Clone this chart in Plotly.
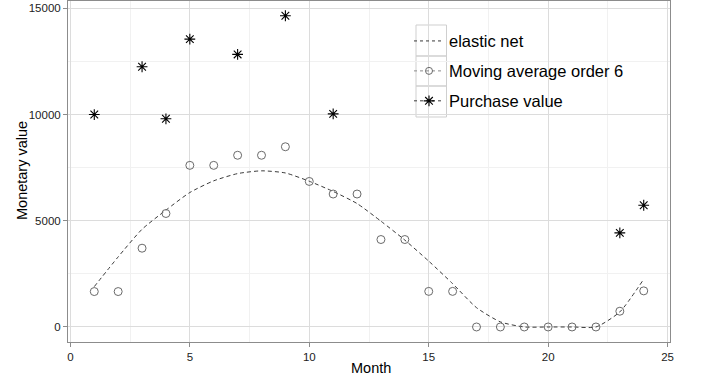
import plotly.graph_objects as go

months = list(range(1, 25))

purchase_months = [1, 3, 4, 5, 7, 9, 11, 23, 24]
purchase_values = [10000, 12250, 9800, 13550, 12830, 14650, 10030, 4430, 5730]

moving_avg = [1667, 1667, 3708, 5342, 7608, 7608, 8083, 8083, 8483, 6850, 6258, 6258,
              4117, 4117, 1675, 1675, 0, 0, 0, 0, 0, 0, 742, 1700]

elastic_net = [1900, 3300, 4600, 5500, 6330, 6880, 7220, 7350, 7250, 6860, 6380, 5810,
               4980, 4090, 3100, 2040, 910, 240, 0, 0, 0, 0, 710, 2250]

FONT = "Liberation Sans, Arial, Helvetica, sans-serif"
GREY_LINE = "#8c8c8c"

fig = go.Figure()

fig.add_trace(go.Scatter(x=months, y=elastic_net, mode="lines",
                         line=dict(color="#3a3a3a", width=1, dash="4px,3px", shape="spline",
                                   smoothing=0.6),
                         name="elastic net", showlegend=False))
fig.add_trace(go.Scatter(x=months, y=moving_avg, mode="markers",
                         marker=dict(symbol="circle-open", size=8, color="#6a6a6a",
                                     line=dict(width=1, color="#6a6a6a")),
                         name="Moving average order 6", showlegend=False))
fig.add_trace(go.Scatter(x=purchase_months, y=purchase_values, mode="markers",
                         marker=dict(symbol="asterisk-open", size=9, color="#000000",
                                     line=dict(width=1.1, color="#000000")),
                         name="Purchase value", showlegend=False))

# legend entries (ggplot-style keys: dashed line + symbol)
fig.add_trace(go.Scatter(x=[None], y=[None], mode="lines", legendgroup="a",
                         line=dict(color="#3a3a3a", width=1, dash="3px,3px"),
                         name="elastic net"))
fig.add_trace(go.Scatter(x=[None], y=[None], mode="lines+markers", legendgroup="b",
                         line=dict(color="#8a8a8a", width=1, dash="3px,3px"),
                         marker=dict(symbol="circle-open", size=7, color="#6a6a6a"),
                         name="Moving average order 6"))
fig.add_trace(go.Scatter(x=[None], y=[None], mode="lines+markers", legendgroup="c",
                         line=dict(color="#3a3a3a", width=1, dash="3px,3px"),
                         marker=dict(symbol="asterisk-open", size=9, color="#000000",
                                     line=dict(width=1.1, color="#000000")),
                         name="Purchase value"))

axis_common = dict(
    showline=True, mirror=True, linecolor=GREY_LINE, linewidth=1,
    ticks="outside", ticklen=4, tickcolor=GREY_LINE, tickwidth=1,
    showgrid=True, gridcolor="#dcdcdc", gridwidth=1,
    zeroline=False, automargin=False, tickformat="d",
    tickfont=dict(family=FONT, size=11.5, color="#222222"),
)

# legend panel decoration (white background + ggplot-like key boxes), in pixels
PL, PT, PW, PH = 68, 1, 602, 341
def px_x(p):
    return (p - PL) / PW
def px_y(p):
    return 1 - (p - PT) / PH

shapes = [dict(type="rect", xref="paper", yref="paper", layer="between",
               x0=px_x(416), x1=px_x(630), y0=px_y(117), y1=px_y(25),
               fillcolor="white", line=dict(width=0))]
for top, bot in [(25, 56), (56, 86), (86, 117)]:
    shapes.append(dict(type="rect", xref="paper", yref="paper", layer="between",
                       x0=px_x(416), x1=px_x(446.5), y0=px_y(bot), y1=px_y(top),
                       fillcolor="rgba(0,0,0,0)", line=dict(width=1, color="#cfcfcf")))

fig.update_layout(
    width=702, height=380,
    margin=dict(l=68, r=32, t=1, b=38),
    plot_bgcolor="white", paper_bgcolor="white",
    font=dict(family=FONT, color="#000000"),
    xaxis=dict(**axis_common, range=[-0.1, 25.1], tick0=0, dtick=5,
               minor=dict(dtick=2.5, tick0=0, showgrid=True, gridcolor="#f1f1f1", gridwidth=1)),
    yaxis=dict(**axis_common, range=[-707, 15344], tick0=0, dtick=5000,
               minor=dict(dtick=2500, tick0=0, showgrid=True, gridcolor="#f1f1f1", gridwidth=1)),
    shapes=shapes,
    annotations=[
        dict(text="Month", xref="paper", yref="paper", x=px_x(371), y=px_y(368),
             xanchor="center", yanchor="middle", showarrow=False,
             font=dict(family=FONT, size=14.5, color="#000000")),
        dict(text="Monetary value", xref="paper", yref="paper", x=px_x(22), y=px_y(171),
             xanchor="center", yanchor="middle", showarrow=False, textangle=-90,
             font=dict(family=FONT, size=14.5, color="#000000")),
    ],
    legend=dict(x=px_x(409), y=px_y(23.7), xanchor="left", yanchor="top",
                bgcolor="rgba(0,0,0,0)", borderwidth=0,
                font=dict(family=FONT, size=16.5, color="#000000"),
                itemwidth=30, tracegroupgap=5.5),
)

fig.write_html("out.html", config={"displayModeBar": False},
               post_script="document.body.style.margin='0';document.body.style.overflow='hidden';")
